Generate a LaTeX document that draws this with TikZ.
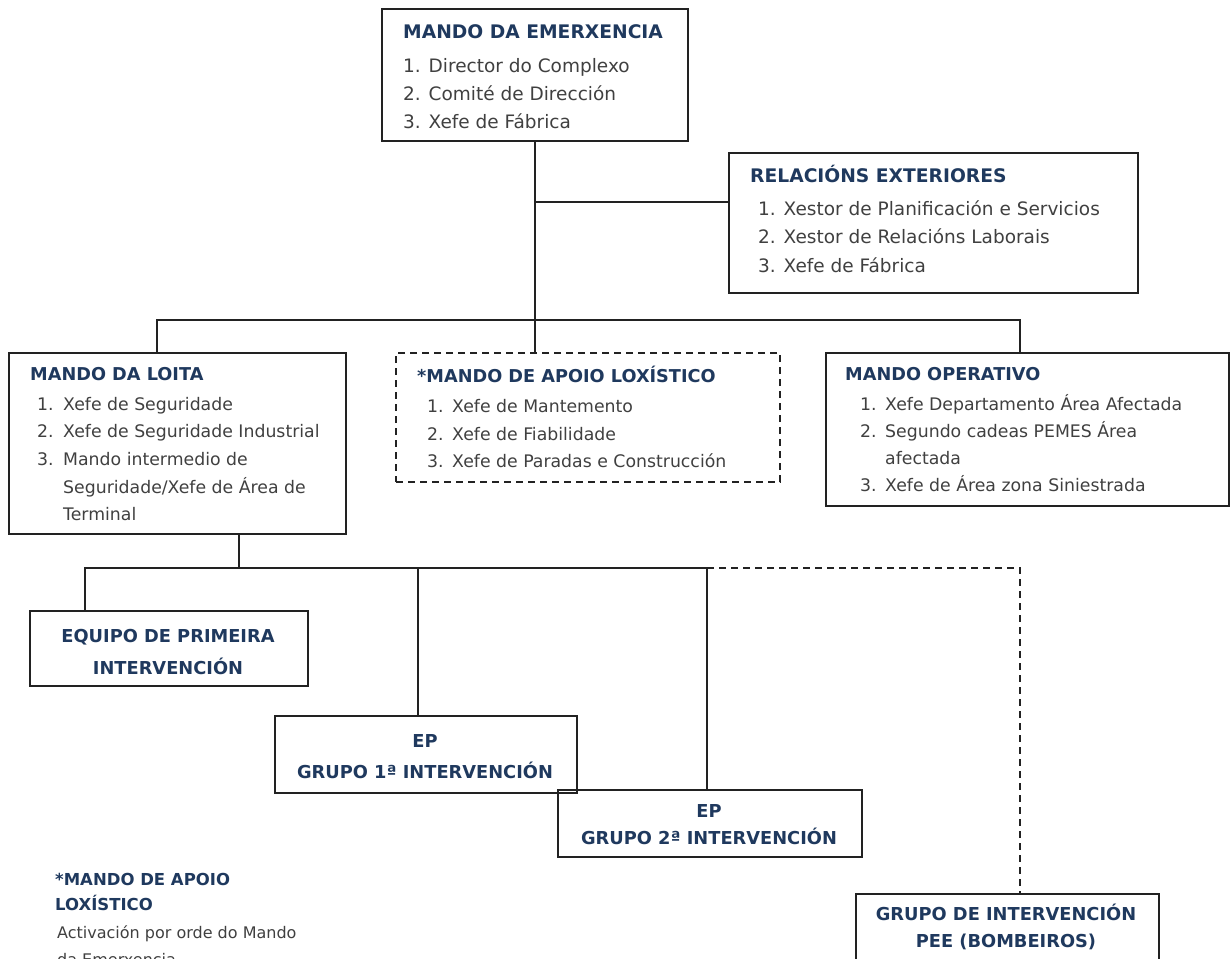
\documentclass[tikz,border=0pt]{standalone}
\usepackage{fontspec}
\setmainfont{DejaVu Sans}
\usetikzlibrary{calc}
\definecolor{headblue}{RGB}{31,57,94}
\definecolor{bodygray}{RGB}{64,64,64}
\definecolor{linegray}{RGB}{34,34,34}
\begin{document}
\begin{tikzpicture}[x=1pt,y=-1pt,
  boxst/.style={draw=linegray,line width=2pt,rectangle,inner sep=0pt,anchor=north west},
  dboxst/.style={boxst,dash pattern=on 7pt off 5pt},
  link/.style={draw=linegray,line width=1.8pt},
  dlink/.style={link,dash pattern=on 7pt off 5pt},
  head/.style={anchor=base west,inner sep=0pt,text=headblue,font=\fontsize{18.7}{28}\selectfont\bfseries},
  shead/.style={head,font=\fontsize{17.7}{28}\selectfont\bfseries},
  chead/.style={anchor=base,inner sep=0pt,text=headblue,font=\fontsize{17.8}{28}\selectfont\bfseries},
  item/.style={anchor=base west,inner sep=0pt,text=bodygray,font=\fontsize{18.5}{28}\selectfont},
  sitem/.style={item,font=\fontsize{17.3}{28}\selectfont},
  note/.style={anchor=base west,inner sep=0pt,text=bodygray,font=\fontsize{16}{26}\selectfont},
  nhead/.style={anchor=base west,inner sep=0pt,text=headblue,font=\fontsize{16.5}{26}\selectfont\bfseries}]
\useasboundingbox (0,0) rectangle (1230,958);
\clip (0,0) rectangle (1230,958);

% ---- boxes ----
\node[boxst,minimum width=306pt,minimum height=132pt] (A) at (381,8) {};
\node[boxst,minimum width=409pt,minimum height=140pt] (B) at (728,152) {};
\node[boxst,minimum width=337pt,minimum height=181pt] (C) at (8,352) {};
\node[dboxst,minimum width=384pt,minimum height=129pt] (D) at (395,352) {};
\node[boxst,minimum width=403pt,minimum height=153pt] (E) at (825,352) {};
\node[boxst,minimum width=278pt,minimum height=75pt] (F) at (29,610) {};
\node[boxst,minimum width=302pt,minimum height=77pt] (G) at (274,715) {};
\node[boxst,minimum width=304pt,minimum height=67pt] (H) at (557,789) {};
\node[boxst,minimum width=303pt,minimum height=90pt] (I) at (855,893) {};

% ---- junction points ----
\coordinate (relB) at (728,202);
\coordinate (busL) at (157,320);
\coordinate (busR) at (1020,320);
\coordinate (sub) at (239,568);
\coordinate (subF) at (85,568);
\coordinate (subG) at (418,568);
\coordinate (subH) at (707,568);
\coordinate (subI) at (1020,568);

% ---- connectors ----
\draw[link] (A.south) -- (A.south |- D.north);
\draw[link] (A.south |- relB) -- (relB);
\draw[link] (C.north -| busL) -- (busL) -- (busR) -- (E.north -| busR);
\draw[link] (C.south -| sub) -- (sub);
\draw[link] (F.north -| subF) -- (subF) -- (subH);
\draw[link] (subG) -- (G.north -| subG);
\draw[link] (subH) -- (H.north -| subH);
\draw[dlink] (subH) -- (subI) -- (I.north -| subI);

% ---- MANDO DA EMERXENCIA ----
\node[head] (At) at (403,38) {MANDO DA EMERXENCIA};
\node[item] (A1) at (403,72) {1. Director do Complexo};
\node[item] (A2) at (403,100) {2. Comité de Dirección};
\node[item] (A3) at (403,128) {3. Xefe de Fábrica};

% ---- RELACIÓNS EXTERIORES ----
\node[head] (Bt) at (750,182) {RELACIÓNS EXTERIORES};
\node[item] (B1) at (758,215) {1. Xestor de Planificación e Servicios};
\node[item] (B2) at (758,243) {2. Xestor de Relacións Laborais};
\node[item] (B3) at (758,272) {3. Xefe de Fábrica};

% ---- MANDO DA LOITA ----
\node[shead] (Ct) at (30,380) {MANDO DA LOITA};
\node[sitem] (C1n) at (37,410) {1.};
\node[sitem] (C1) at (63,410) {Xefe de Seguridade};
\node[sitem] (C2n) at (37,437) {2.};
\node[sitem] (C2) at (63,437) {Xefe de Seguridade Industrial};
\node[sitem] (C3n) at (37,465) {3.};
\node[sitem] (C3) at (63,465) {Mando intermedio de};
\node[sitem] (C3b) at (63,493) {Seguridade/Xefe de Área de};
\node[sitem] (C3c) at (63,520) {Terminal};

% ---- MANDO DE APOIO LOXÍSTICO ----
\node[shead] (Dt) at (417,382) {*MANDO DE APOIO LOXÍSTICO};
\node[sitem] (D1n) at (427,412) {1.};
\node[sitem] (D1) at (452,412) {Xefe de Mantemento};
\node[sitem] (D2n) at (427,440) {2.};
\node[sitem] (D2) at (452,440) {Xefe de Fiabilidade};
\node[sitem] (D3n) at (427,467) {3.};
\node[sitem] (D3) at (452,467) {Xefe de Paradas e Construcción};

% ---- MANDO OPERATIVO ----
\node[shead] (Et) at (845,380) {MANDO OPERATIVO};
\node[sitem] (E1n) at (860,410) {1.};
\node[sitem] (E1) at (885,410) {Xefe Departamento Área Afectada};
\node[sitem] (E2n) at (860,437) {2.};
\node[sitem] (E2) at (885,437) {Segundo cadeas PEMES Área};
\node[sitem] (E2b) at (885,464) {afectada};
\node[sitem] (E3n) at (860,491) {3.};
\node[sitem] (E3) at (885,491) {Xefe de Área zona Siniestrada};

% ---- intervention groups ----
\node[chead] (F1) at (168,642) {EQUIPO DE PRIMEIRA};
\node[chead] (F2) at (168,674) {INTERVENCIÓN};
\node[chead] (G1) at (425,747) {EP};
\node[chead] (G2) at (425,778) {GRUPO 1ª INTERVENCIÓN};
\node[chead] (H1) at (709,817) {EP};
\node[chead] (H2) at (709,844) {GRUPO 2ª INTERVENCIÓN};
\node[chead] (I1) at (1006,920) {GRUPO DE INTERVENCIÓN};
\node[chead] (I2) at (1006,947) {PEE (BOMBEIROS)};

% ---- note ----
\node[nhead] (N1) at (55,885) {*MANDO DE APOIO};
\node[nhead] (N2) at (55,910) {LOXÍSTICO};
\node[note] (N3) at (57,938) {Activación por orde do Mando};
\node[note] (N4) at (57,965) {da Emerxencia};
\end{tikzpicture}
\end{document}
